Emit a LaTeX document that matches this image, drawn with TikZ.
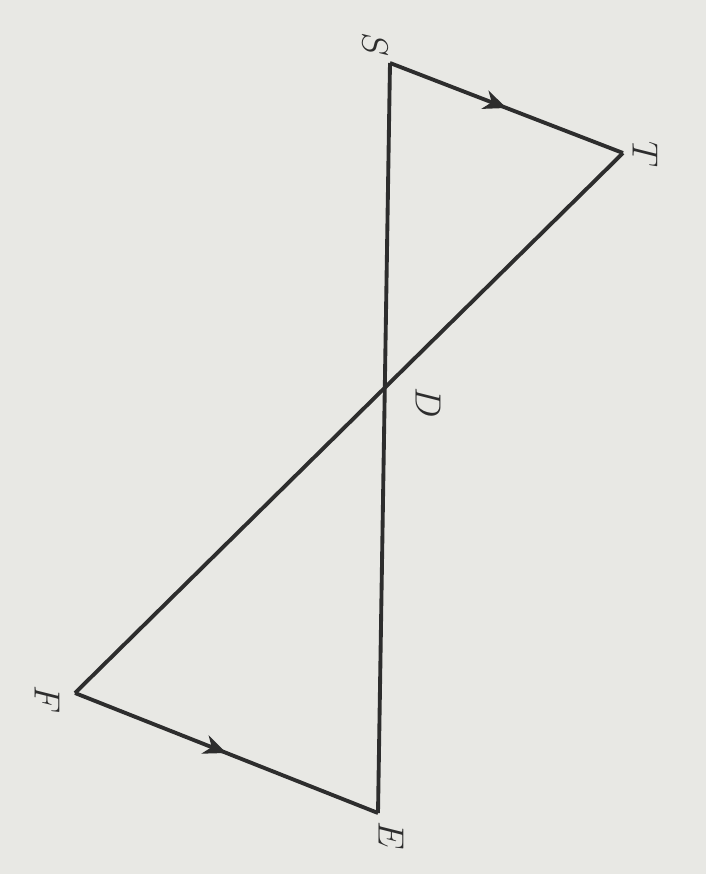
\documentclass[tikz,border=0pt]{standalone}
\usetikzlibrary{arrows.meta, decorations.markings}

\definecolor{paper}{RGB}{232,232,228}
\definecolor{ink}{RGB}{45,45,45}

\begin{document}
\begin{tikzpicture}[
    seg/.style={draw=ink, line width=2.2pt, line join=miter},
    midarrow/.style={seg, decoration={markings, mark=at position 0.5 with {\arrow{Stealth[length=13pt, width=11pt, inset=4pt]}}}, postaction={decorate}},
    vlabel/.style={text=ink, rotate=-90, inner sep=0, font=\fontsize{22}{26}\selectfont}
]

    % background (photo paper)
    \fill[paper] (0, 0) rectangle (14.12, -17.48);
    \useasboundingbox (0, 0) rectangle (14.12, -17.48);

    % =========================================================
    % VERTICES
    % =========================================================
    \coordinate (S) at (7.80, -1.26);
    \coordinate (T) at (12.46, -3.06);
    \coordinate (F) at (1.50, -13.86);
    \coordinate (E) at (7.56, -16.26);

    % Labels (the page is turned a quarter)
    \node[vlabel] (lS) at (7.50, -0.90) {$S$};
    \node[vlabel] (lT) at (12.90, -3.08) {$T$};
    \node[vlabel] (lD) at (8.56, -8.06) {$D$};
    \node[vlabel] (lF) at (0.94, -14.00) {$F$};
    \node[vlabel] (lE) at (7.82, -16.72) {$E$};

    % =========================================================
    % SIDES
    % =========================================================
    \draw[seg] (S) -- (E);
    \draw[seg] (T) -- (F);

    % Parallel sides with arrow marks
    \draw[midarrow] (S) -- (T);
    \draw[midarrow] (F) -- (E);

\end{tikzpicture}
\end{document}
